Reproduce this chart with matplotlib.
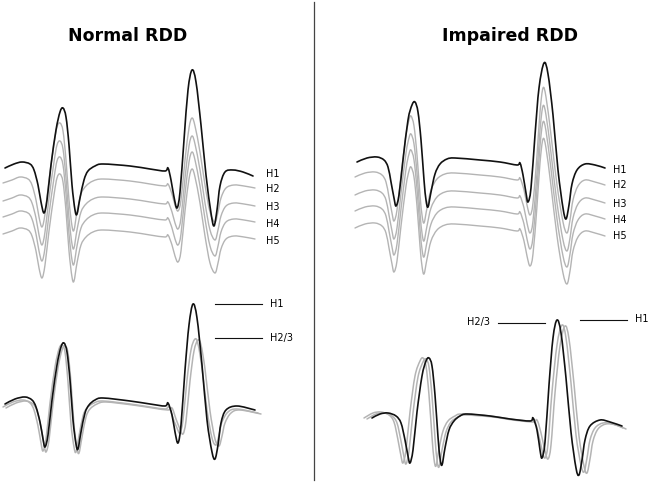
import matplotlib
matplotlib.use('agg')
import matplotlib.pyplot as plt
from matplotlib.path import Path
from matplotlib.patches import PathPatch
import numpy as np

# schematic traces (time in samples, level with down = positive)

#--- Normal RDD, stacked H1..H5 ---#
t_norm_top = [5, 14, 22, 30, 34, 38, 41, 44, 47, 51, 56, 60, 63, 66, 69, 72, 75, 77, 80, 84, 88, 95, 103, 130, 150, 165,
              168, 171, 174, 177, 180, 184, 188, 192, 196, 201, 206, 211, 214, 217, 220, 225, 233, 243, 253]
h1_norm_top = [168, 164, 162, 164, 170, 185, 202, 213, 200, 165, 130, 112, 108, 117, 145, 185, 210, 214, 198, 180, 171, 166, 164, 166, 169, 171,
               168, 180, 197, 208, 192, 140, 90, 70, 82, 125, 175, 213, 226, 210, 186, 172, 170, 172, 176]
t_norm_top_g = [3, 12, 20, 28, 32, 36, 39, 42, 45, 49, 54, 57, 60, 63, 66, 69, 72, 74, 77, 81, 86, 93, 103, 130, 150, 165,
                168, 172, 175, 178, 181, 185, 189, 192, 195, 200, 205, 210, 215, 218, 221, 226, 234, 244, 255]
h2_norm_top = [183, 180, 177, 179, 185, 200, 217, 227, 214, 180, 144, 127, 123, 131, 160, 200, 226, 230, 212, 194, 186, 181, 179, 181, 184, 186,
               184, 194, 205, 211, 200, 160, 128, 118, 126, 152, 185, 212, 222, 212, 198, 188, 185, 186, 188]

#--- Impaired RDD, stacked H1..H5 ---#
t_imp_top = [357, 367, 377, 384, 388, 391, 394, 396, 399, 403, 408, 412, 415, 418, 421, 424, 426, 428, 431, 435, 440, 447, 455, 480, 500, 517,
             520, 523, 526, 528, 531, 535, 539, 544, 548, 553, 558, 563, 566, 569, 572, 577, 585, 595, 605]
h1_imp_top = [162, 158, 157, 160, 167, 182, 198, 206, 195, 160, 120, 105, 102, 112, 140, 180, 200, 207, 192, 174, 164, 159, 158, 160, 162, 165,
              163, 175, 193, 202, 188, 135, 88, 63, 74, 115, 170, 208, 219, 205, 184, 170, 164, 165, 168]
t_imp_top_g = [355, 365, 375, 382, 386, 389, 392, 394, 397, 401, 406, 409, 411, 414, 417, 420, 422, 424, 427, 431, 437, 445, 455, 480, 500, 517,
               520, 524, 527, 530, 533, 537, 540, 543, 546, 551, 557, 563, 567, 570, 573, 578, 585, 595, 605]
h2_imp_top = [177, 173, 172, 175, 182, 197, 213, 221, 210, 175, 135, 120, 116, 126, 155, 195, 215, 223, 208, 190, 179, 174, 173, 175, 177, 180,
              178, 190, 205, 215, 203, 155, 112, 88, 97, 135, 185, 222, 233, 220, 200, 186, 180, 182, 185]

top_offsets = [0, 18, 34, 51]          # H2..H5 shift below H2
top_labels = ['H1', 'H2', 'H3', 'H4', 'H5']
top_label_y_norm = [174, 189, 207, 224, 241]
top_label_y_imp = [170, 185, 204, 220, 236]

#--- Normal RDD, overlaid ---#
t_norm_bot = [5, 15, 25, 32, 36, 40, 43, 45, 48, 52, 57, 61, 64, 67, 70, 73, 76, 78, 81, 85, 89, 95, 103, 130, 150, 165,
              168, 172, 175, 178, 181, 185, 189, 193, 197, 202, 207, 212, 215, 218, 221, 226, 237, 255]
h1_norm_bot = [404, 399, 397, 400, 407, 422, 439, 447, 435, 400, 365, 347, 343, 352, 380, 420, 444, 449, 432, 413, 405, 400, 398, 401, 404, 406,
               403, 415, 432, 443, 425, 370, 325, 304, 318, 365, 420, 452, 459, 445, 423, 410, 406, 410]
t_norm_bot_g = [3, 13, 23, 30, 34, 38, 41, 43, 46, 50, 55, 59, 62, 65, 68, 71, 74, 76, 79, 83, 87, 94, 103, 130, 150, 165,
                169, 173, 177, 180, 183, 187, 191, 195, 198, 202, 207, 212, 216, 219, 222, 228, 237, 258]
h23_norm_bot = [407, 402, 400, 403, 410, 426, 443, 451, 439, 403, 367, 349, 345, 352, 382, 424, 447, 452, 436, 416, 408, 403, 401, 404, 407, 409,
                407, 418, 428, 433, 420, 380, 350, 339, 344, 368, 410, 438, 445, 435, 422, 412, 409, 413]

#--- Impaired RDD, overlaid ---#
t_imp_bot = [372, 380, 388, 396, 401, 405, 408, 410, 413, 417, 422, 426, 429, 432, 435, 438, 440, 442, 445, 449, 454, 460, 467, 490, 510, 530,
             533, 537, 540, 542, 545, 549, 553, 557, 561, 566, 571, 576, 579, 582, 585, 590, 600, 610, 622]
h1_imp_bot = [418, 414, 413, 416, 423, 440, 456, 463, 450, 412, 376, 361, 358, 366, 395, 437, 458, 465, 448, 430, 421, 416, 414, 416, 419, 421,
              418, 430, 450, 458, 442, 385, 338, 320, 333, 378, 432, 468, 475, 460, 440, 426, 420, 422, 426]
t_imp_bot_g = [364, 373, 381, 389, 394, 398, 401, 403, 406, 410, 415, 420, 423, 426, 429, 432, 434, 436, 439, 443, 448, 455, 462, 490, 510, 530,
               534, 538, 542, 545, 548, 552, 557, 562, 566, 571, 576, 581, 584, 587, 590, 595, 603, 613, 623]
h23_imp_bot = [418, 413, 412, 415, 422, 440, 456, 463, 450, 412, 376, 361, 358, 366, 395, 437, 459, 466, 449, 431, 421, 416, 414, 416, 419, 421,
               419, 432, 450, 458, 444, 392, 345, 325, 338, 383, 435, 465, 472, 458, 440, 428, 423, 424, 428]

bot_shift_t = [0, 3]        # the two grey traces (H2, H3) are slightly apart
bot_shift_h = [0, 1]

grey = '#b4b4b4'
black = '#111111'


def trace(ax, t, h, color, lw, k=1/6):
    # smooth curve through every read point (Catmull-Rom as cubic bezier)
    p = np.column_stack([t, h]).astype(float)
    p = np.vstack([p[0], p, p[-1]])
    verts = [p[1]]
    codes = [Path.MOVETO]
    for i in range(1, len(p) - 2):
        c1 = p[i] + (p[i + 1] - p[i - 1]) * k
        c2 = p[i + 1] - (p[i + 2] - p[i]) * k
        verts += [c1, c2, p[i + 1]]
        codes += [Path.CURVE4] * 3
    ax.add_patch(PathPatch(Path(verts, codes), fill=False, edgecolor=color, lw=lw, capstyle='round', joinstyle='round'))


fig = plt.figure(figsize=(6.5, 4.82), dpi=100)
ax = fig.add_axes([0, 0, 1, 1])
ax.set_xlim(0, 650)
ax.set_ylim(482, 0)
ax.axis('off')

# divider
ax.plot([314, 314], [2, 480], color='#444444', lw=0.9)

ax.text(128, 36, 'Normal RDD', ha='center', va='center', fontsize=12.5, fontweight='bold')
ax.text(510, 36, 'Impaired RDD', ha='center', va='center', fontsize=12.5, fontweight='bold')

# stacked harmonics
for tg, hg, t1, h1, lx, ly in [(t_norm_top_g, h2_norm_top, t_norm_top, h1_norm_top, 266, top_label_y_norm),
                               (t_imp_top_g, h2_imp_top, t_imp_top, h1_imp_top, 613, top_label_y_imp)]:
    for off in top_offsets[::-1]:
        trace(ax, tg, np.array(hg) + off, grey, 1.0)
    trace(ax, t1, h1, black, 1.2)
    for lab, y in zip(top_labels, ly):
        ax.text(lx, y, lab, ha='left', va='center', fontsize=7)

# overlaid harmonics
for tg, hg, t1, h1 in [(t_norm_bot_g, h23_norm_bot, t_norm_bot, h1_norm_bot),
                       (t_imp_bot_g, h23_imp_bot, t_imp_bot, h1_imp_bot)]:
    for dt, dh in zip(bot_shift_t, bot_shift_h):
        trace(ax, np.array(tg) + dt, np.array(hg) + dh, grey, 1.1)
    trace(ax, t1, h1, black, 1.2)

# peak markers
ax.plot([215, 262], [304, 304], color=black, lw=0.8)
ax.text(270, 304, 'H1', ha='left', va='center', fontsize=7)
ax.plot([215, 262], [338, 338], color=black, lw=0.8)
ax.text(270, 338, 'H2/3', ha='left', va='center', fontsize=7)

ax.plot([498, 545], [323, 323], color=black, lw=0.8)
ax.text(467, 322, 'H2/3', ha='left', va='center', fontsize=7)
ax.plot([580, 627], [320, 320], color=black, lw=0.8)
ax.text(635, 319, 'H1', ha='left', va='center', fontsize=7)

fig.savefig('out.png', dpi=100)
